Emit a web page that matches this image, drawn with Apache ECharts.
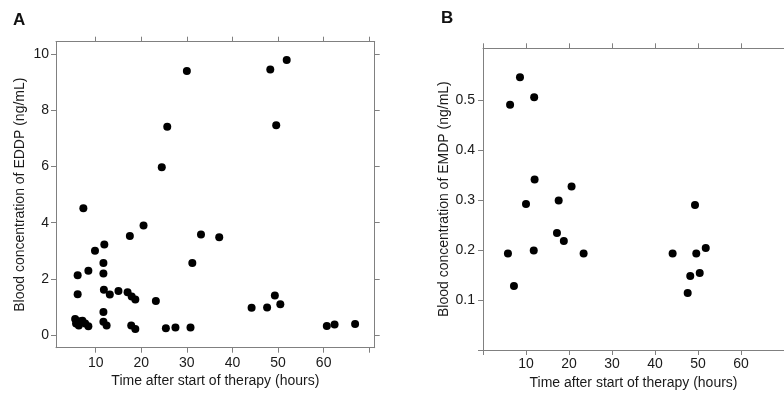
<!DOCTYPE html>
<html>
<head>
<meta charset="utf-8">
<script src="https://cdn.jsdelivr.net/npm/echarts@6/dist/echarts.min.js"></script>
<style>
html,body{margin:0;padding:0;background:#fff;}
#c{width:784px;height:397px;}
</style>
</head>
<body>
<div id="c"></div>
<script>
// Panel A: EDDP
const timeA = [30.0, 25.7, 24.5, 48.3, 51.9, 49.6, 7.3, 20.5, 17.5, 33.1, 37.1, 11.9, 9.85, 31.2, 11.7, 11.7, 8.4, 6.05, 6.05, 11.8, 13.1, 15.0, 17.0, 17.9, 18.7, 23.2, 11.7, 11.7, 12.4, 17.8, 18.7, 25.4, 27.5, 30.8, 44.2, 47.6, 49.3, 50.5, 60.7, 62.4, 66.9, 5.5, 5.7, 6.3, 6.6, 7.1, 7.7, 8.4];
const eddp  = [9.39, 7.41, 5.97, 9.44, 9.78, 7.46, 4.51, 3.90, 3.53, 3.58, 3.48, 3.23, 3.00, 2.57, 2.57, 2.20, 2.29, 2.13, 1.46, 1.62, 1.45, 1.57, 1.53, 1.38, 1.27, 1.22, 0.83, 0.48, 0.35, 0.35, 0.22, 0.25, 0.28, 0.28, 0.98, 0.99, 1.41, 1.10, 0.33, 0.38, 0.40, 0.58, 0.42, 0.35, 0.50, 0.52, 0.42, 0.32];
// Panel B: EMDP
const timeB = [8.6, 6.3, 11.9, 12.0, 20.6, 10.0, 17.6, 17.2, 18.8, 5.8, 11.8, 23.4, 7.2, 44.1, 49.3, 49.6, 51.8, 48.2, 50.4, 47.6];
const emdp  = [0.545, 0.490, 0.505, 0.341, 0.327, 0.292, 0.299, 0.234, 0.218, 0.193, 0.199, 0.193, 0.128, 0.193, 0.290, 0.193, 0.204, 0.148, 0.154, 0.114];

const xTicksA = [10, 20, 30, 40, 50, 60, 70];
const xLabelsA = [10, 20, 30, 40, 50, 60];
const yTicksA = [0, 2, 4, 6, 8, 10];
const xTicksB = [0, 10, 20, 30, 40, 50, 60, 70];
const xLabelsB = [10, 20, 30, 40, 50, 60];
const yTicksB = [0, 0.1, 0.2, 0.3, 0.4, 0.5];
const yLabelsB = [0.1, 0.2, 0.3, 0.4, 0.5];

const xTitle = 'Time after start of therapy (hours)';
const yTitleA = 'Blood concentration of EDDP (ng/mL)';
const yTitleB = 'Blood concentration of EMDP (ng/mL)';

const FONT = '"Liberation Sans", Arial, sans-serif';
const AX = '#808080';
const TXT = '#1a1a1a';

function line(){ return {show:true, onZero:false, lineStyle:{color:AX, width:1}}; }
function ticks(vals){ return {show:true, inside:false, length:5, lineStyle:{color:AX, width:1}, customValues:vals}; }
function labels(vals, margin){ return {show:true, color:TXT, fontSize:14, fontFamily:FONT, margin:margin, customValues:vals}; }
function hiddenLabels(){ return {show:false}; }

const chart = echarts.init(document.getElementById('c'), null, {renderer:'canvas'});
chart.setOption({
  animation:false,
  backgroundColor:'#fff',
  title:[
    {text:'A', left:13, top:12, padding:0, textStyle:{fontSize:17, fontWeight:'bold', fontFamily:FONT, color:'#111'}},
    {text:'B', left:441, top:10, padding:0, textStyle:{fontSize:17, fontWeight:'bold', fontFamily:FONT, color:'#111'}}
  ],
  grid:[
    {left:56, top:41.7, width:318.7, height:306, containLabel:false},
    {left:483, top:48.3, width:308.5, height:301.7, containLabel:false}
  ],
  xAxis:[
    {type:'value', gridIndex:0, position:'bottom', min:1.3, max:71.2,
     axisLine:line(), axisTick:ticks(xTicksA), axisLabel:labels(xLabelsA, 8), splitLine:{show:false},
     name:xTitle, nameLocation:'middle', nameGap:26,
     nameTextStyle:{fontSize:14, fontFamily:FONT, color:TXT}},
    {type:'value', gridIndex:0, position:'top', min:1.3, max:71.2,
     axisLine:line(), axisTick:ticks(xTicksA), axisLabel:hiddenLabels(), splitLine:{show:false}},
    {type:'value', gridIndex:1, position:'bottom', min:0, max:70,
     axisLine:line(), axisTick:ticks(xTicksB), axisLabel:labels(xLabelsB, 7), splitLine:{show:false},
     name:xTitle, nameLocation:'middle', nameGap:24,
     nameTextStyle:{fontSize:14, fontFamily:FONT, color:TXT}},
    {type:'value', gridIndex:1, position:'top', min:0, max:70,
     axisLine:line(), axisTick:ticks(xTicksB), axisLabel:hiddenLabels(), splitLine:{show:false}}
  ],
  yAxis:[
    {type:'value', gridIndex:0, position:'left', min:-0.44, max:10.43,
     axisLine:line(), axisTick:ticks(yTicksA), axisLabel:labels(yTicksA, 7), splitLine:{show:false},
     name:yTitleA, nameLocation:'middle', nameGap:29,
     nameTextStyle:{fontSize:14, fontFamily:FONT, color:TXT}},
    {type:'value', gridIndex:0, position:'right', min:-0.44, max:10.43,
     axisLine:line(), axisTick:ticks(yTicksA), axisLabel:hiddenLabels(), splitLine:{show:false}},
    {type:'value', gridIndex:1, position:'left', min:0, max:0.603,
     axisLine:line(), axisTick:ticks(yTicksB), axisLabel:labels(yLabelsB, 8), splitLine:{show:false},
     name:yTitleB, nameLocation:'middle', nameGap:32,
     nameTextStyle:{fontSize:14, fontFamily:FONT, color:TXT}}
  ],
  series:[
    {type:'scatter', xAxisIndex:0, yAxisIndex:0, symbol:'circle', symbolSize:8,
     itemStyle:{color:'#000', opacity:1}, data:timeA.map((t,i)=>[t, eddp[i]])},
    {type:'scatter', xAxisIndex:2, yAxisIndex:2, symbol:'circle', symbolSize:8,
     itemStyle:{color:'#000', opacity:1}, data:timeB.map((t,i)=>[t, emdp[i]])}
  ]
});
</script>
</body>
</html>
